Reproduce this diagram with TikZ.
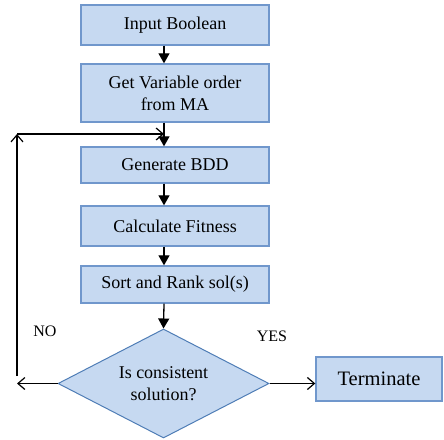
\documentclass[tikz,border=0pt]{standalone}
\usepackage{fontspec}
\setmainfont{Liberation Serif}
\usetikzlibrary{shapes.geometric,arrows.meta}

\definecolor{boxfill}{HTML}{C6D9F1}
\definecolor{boxline}{HTML}{7097CC}
\definecolor{dialine}{HTML}{4F7DB6}

\tikzset{
  stepbox/.style={draw=boxline, line width=1.4pt, fill=boxfill, minimum width=188pt,
    inner sep=0pt, align=center, font=\fontsize{18}{22}\selectfont},
  decision/.style={diamond, draw=dialine, line width=1pt, fill=boxfill, aspect=1.94,
    minimum width=211pt, minimum height=109pt, inner sep=0pt, align=center,
    font=\fontsize{18}{22}\selectfont},
  dn/.style={line width=1.3pt, -{Triangle[length=10pt,width=11pt]}},
  back/.style={line width=1.3pt, -{Straight Barb[length=7pt,width=12pt,line width=1.2pt]}},
  lbl/.style={font=\fontsize{16}{18}\selectfont}
}

\begin{document}
\begin{tikzpicture}[x=1pt, y=-1pt]
    \useasboundingbox (0,0) rectangle (444,439);

    % Process boxes
    \node[stepbox, minimum height=40pt] (input) at (175,25) {Input Boolean};
    \node[stepbox, minimum height=58pt] (getorder) at (175,93) {Get Variable order\\from MA};
    \node[stepbox, minimum height=36pt] (gen) at (175,165) {Generate BDD};
    \node[stepbox, minimum height=40pt] (fit) at (175,226) {Calculate Fitness};
    \node[stepbox, minimum height=37pt] (sort) at (175,284.5) {Sort and Rank sol(s)};

    % Decision and end
    \node[decision] (cons) at (163.5,383.5) {Is consistent\\solution?};
    \node[stepbox, minimum width=126pt, minimum height=44pt,
          font=\fontsize{20.5}{24}\selectfont] (term) at (379,379) {Terminate};

    % Main flow (arrows run on x=164)
    \coordinate (axis) at (164,0);
    \draw[dn] (input.south -| axis) -- (getorder.north -| axis);
    \draw[dn] (getorder.south -| axis) -- (gen.north -| axis);
    \draw[dn] (gen.south -| axis) -- (fit.north -| axis);
    \draw[dn] (fit.south -| axis) -- (sort.north -| axis);
    \draw[dn] (sort.south -| axis) -- (cons.north);

    % YES branch
    \draw[back] (cons.east) -- (cons.east -| term.west);
    \node[lbl] (yes) at (272,336) {YES};

    % NO branch, back to Generate BDD
    \coordinate (noend) at (17,383.5);
    \coordinate (nobot) at (17,376);
    \coordinate (notop) at (17,134);
    \coordinate (nohit) at (164,134);
    \draw[back] (cons.west) -- (noend);
    \draw[back] (nobot) -- (notop);
    \draw[back] (notop) -- (nohit);
    \node[lbl] (no) at (45,331) {NO};
\end{tikzpicture}
\end{document}
